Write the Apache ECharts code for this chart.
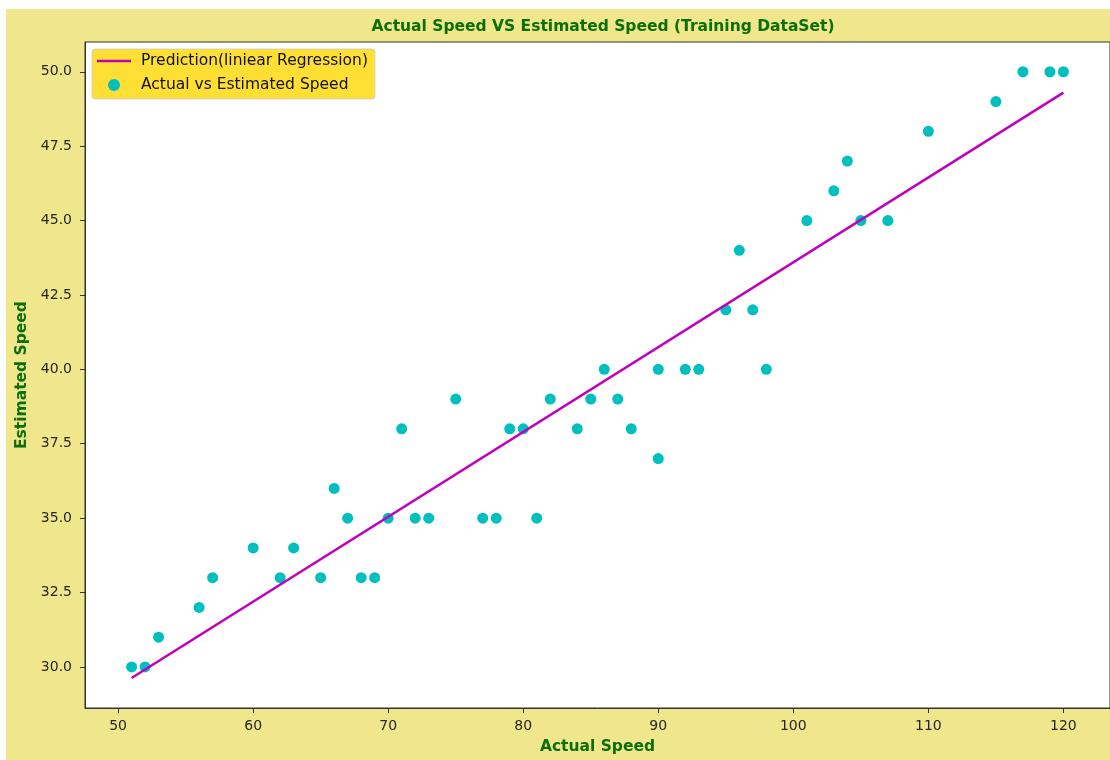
<!DOCTYPE html>
<html>
<head>
<meta charset="utf-8">
<script src="https://cdn.jsdelivr.net/npm/echarts@6/dist/echarts.min.js"></script>
<style>
html,body{margin:0;padding:0;background:#fff;}
#chart{width:1110px;height:760px;}
</style>
</head>
<body>
<div id="chart"></div>
<script>
const actualSpeed = [51,52,53,56,57,60,62,63,65,66,67,68,69,70,71,72,73,75,77,78,79,80,81,82,84,85,86,87,88,90,90,92,93,95,96,97,98,101,103,104,105,107,110,115,117,119,120];
const estimatedSpeed = [30,30,31,32,33,34,33,34,33,36,35,33,33,35,38,35,35,39,35,35,38,38,35,39,38,39,40,39,38,40,37,40,40,42,44,42,40,45,46,47,45,45,48,49,50,50,50];
const predictionX = [51, 120];
const predictionY = [29.63, 49.30];
const xTicks = [50,60,70,80,90,100,110,120];
const yTicks = [30,32.5,35,37.5,40,42.5,45,47.5,50];

const green = '#0b6e0b';
const chart = echarts.init(document.getElementById('chart'), null, {renderer:'canvas'});
const option = {
  backgroundColor: '#ffffff',
  animation: false,
  textStyle: {fontFamily: 'DejaVu Sans'},
  graphic: {
    elements: [{
      type: 'rect', z: -100, silent: true,
      shape: {x: 6, y: 9, width: 1110, height: 760},
      style: {fill: '#F0E68C'}
    }]
  },
  title: {
    text: 'Actual Speed VS Estimated Speed (Training DataSet)',
    left: 598, top: 14, textAlign: 'center',
    textStyle: {color: green, fontSize: 15.5, fontWeight: 'bold', fontFamily: 'DejaVu Sans'}
  },
  legend: {
    left: 92, top: 49, orient: 'vertical',
    padding: [4, 7, 6, 5],
    itemGap: 8, itemWidth: 34, itemHeight: 12,
    backgroundColor: 'rgba(255,215,0,0.8)',
    borderColor: 'rgba(204,204,204,0.8)', borderWidth: 1, borderRadius: 3,
    textStyle: {color: '#111', fontSize: 15.5, fontFamily: 'DejaVu Sans', padding: [0,0,0,5]},
    data: [
      {name: 'Prediction(liniear Regression)', icon: 'path://M0,0H34V2.4H0Z'},
      {name: 'Actual vs Estimated Speed', icon: 'circle'}
    ]
  },
  grid: {
    left: 85, right: -2, top: 42, bottom: 52,
    show: true, backgroundColor: '#ffffff', borderColor: '#333', borderWidth: 1,
    containLabel: false
  },
  xAxis: {
    type: 'value', min: 47.55, max: 123.45,
    name: 'Actual Speed', nameLocation: 'middle', nameGap: 31,
    nameTextStyle: {color: green, fontSize: 15.5, fontWeight: 'bold', fontFamily: 'DejaVu Sans'},
    splitLine: {show: false},
    axisLine: {show: true, lineStyle: {color: '#333', width: 1}},
    axisTick: {show: true, length: 5, lineStyle: {color: '#333'}, customValues: xTicks},
    axisLabel: {color: '#262626', fontSize: 14, margin: 11, customValues: xTicks,
      formatter: v => String(v)}
  },
  yAxis: {
    type: 'value', min: 28.62, max: 51.0,
    name: 'Estimated Speed', nameLocation: 'middle', nameGap: 55, nameRotate: 90,
    nameTextStyle: {color: green, fontSize: 15.5, fontWeight: 'bold', fontFamily: 'DejaVu Sans'},
    splitLine: {show: false},
    axisLine: {show: true, lineStyle: {color: '#333', width: 1}},
    axisTick: {show: true, length: 5, lineStyle: {color: '#333'}, customValues: yTicks},
    axisLabel: {color: '#262626', fontSize: 14, margin: 13, customValues: yTicks,
      formatter: v => v.toFixed(1)}
  },
  series: [
    {
      name: 'Prediction(liniear Regression)',
      type: 'line', symbol: 'none', showSymbol: false, z: 3,
      lineStyle: {color: '#BF00BF', width: 2.5},
      itemStyle: {color: '#BF00BF'},
      data: predictionX.map((x, i) => [x, predictionY[i]])
    },
    {
      name: 'Actual vs Estimated Speed',
      type: 'scatter', symbol: 'circle', symbolSize: 11, z: 2,
      itemStyle: {color: '#00BFBF', opacity: 1},
      data: actualSpeed.map((x, i) => [x, estimatedSpeed[i]])
    }
  ]
};
chart.setOption(option);
</script>
</body>
</html>
